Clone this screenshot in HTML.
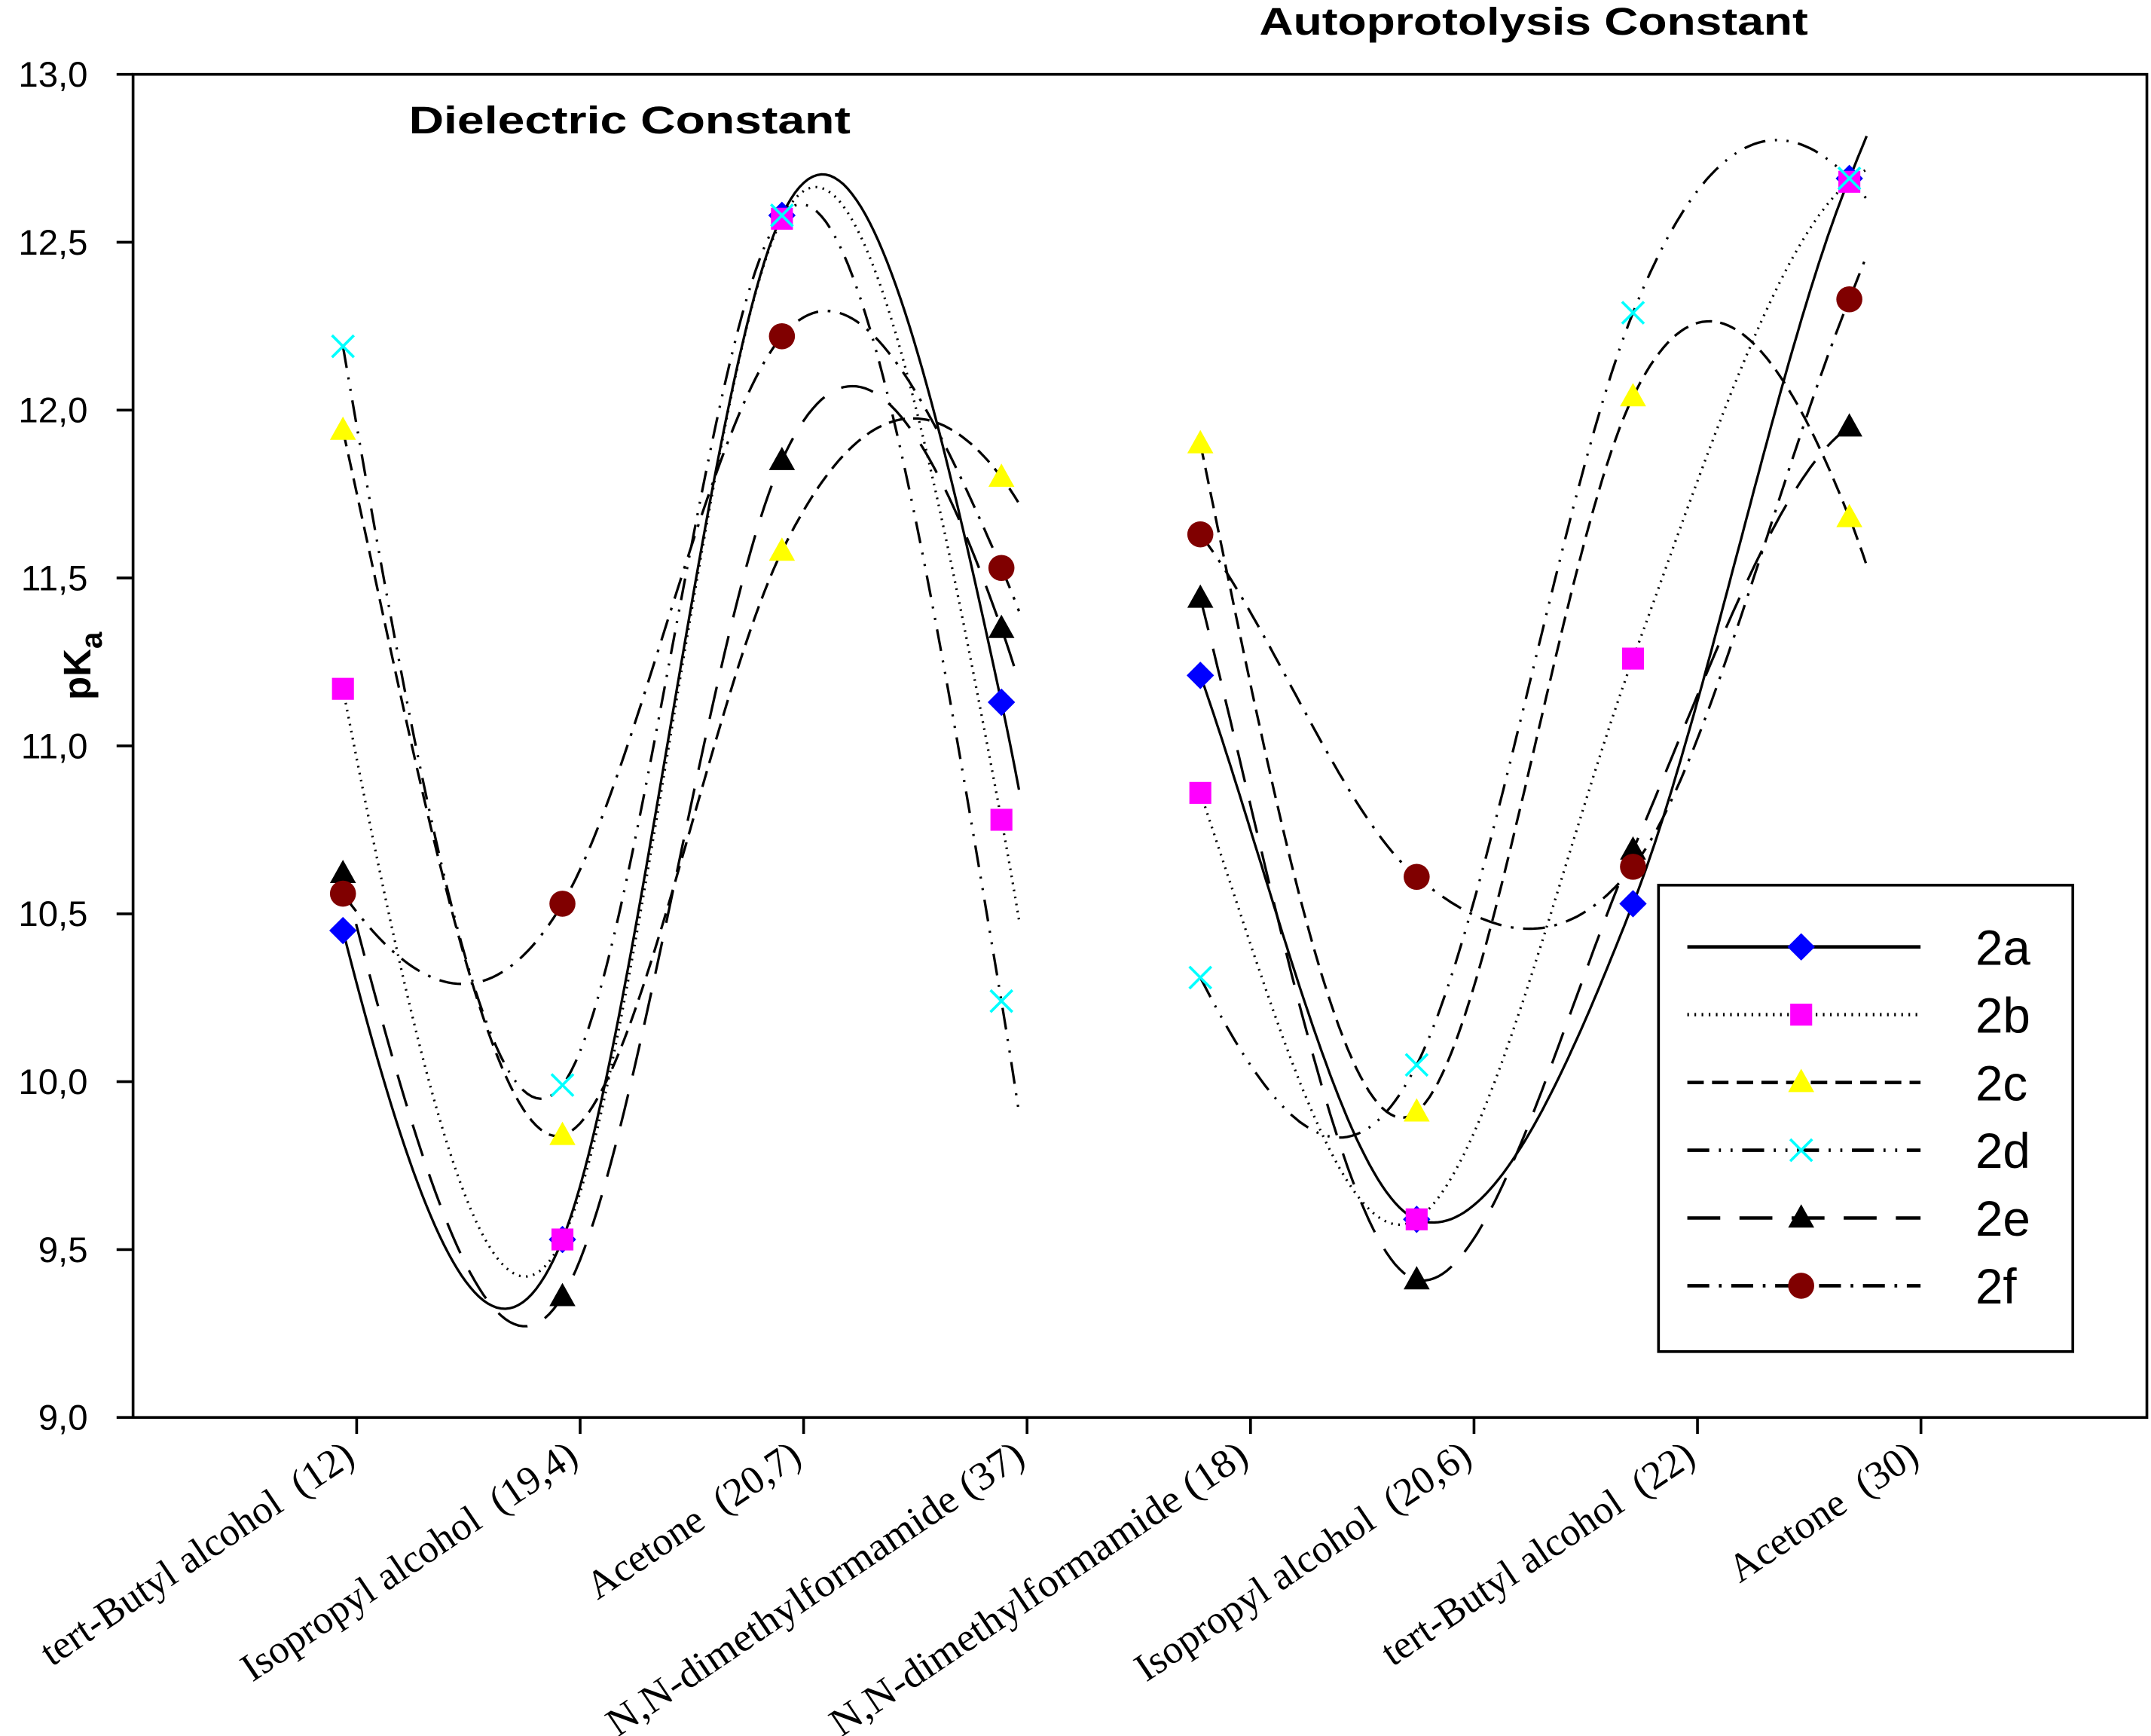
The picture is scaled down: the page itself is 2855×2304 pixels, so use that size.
<!DOCTYPE html>
<html><head><meta charset="utf-8"><style>html,body{margin:0;padding:0;background:#fff}svg{display:block}text{white-space:pre}</style></head>
<body>
<svg id="chart" xmlns="http://www.w3.org/2000/svg" width="2855" height="2304" viewBox="0 0 1568 1265" font-family="Liberation Sans, sans-serif">
<rect width="1568" height="1265" fill="#fff"/>
<g id="plot"></g>
</svg>
<script>
const categories = ["tert-Butyl alcohol  (12)","Isopropyl alcohol  (19,4)","Acetone  (20,7)","N,N-dimethylformamide (37)","N,N-dimethylformamide (18)","Isopropyl alcohol  (20,6)","tert-Butyl alcohol  (22)","Acetone  (30)"];
const yTicks = [9.0,9.5,10.0,10.5,11.0,11.5,12.0,12.5,13.0];
const seriesNames = ["2a","2b","2c","2d","2e","2f"];
const s2a = [10.45,9.53,12.58,11.13, 11.21,9.59,10.53,12.69];
const s2b = [11.17,9.53,12.57,10.78, 10.86,9.59,11.26,12.68];
const s2c = [11.94,9.84,11.58,11.80, 11.90,9.91,12.04,11.68];
const s2d = [12.19,9.99,12.58,10.24, 10.31,10.05,12.29,12.69];
const s2e = [10.62,9.36,11.85,11.35, 11.44,9.41,10.69,11.95];
const s2f = [10.56,10.53,12.22,11.53, 11.63,10.61,10.64,12.33];
const allSeries = [s2a,s2b,s2c,s2d,s2e,s2f];

const NS="http://www.w3.org/2000/svg";
const g=document.getElementById('plot');
const L=97,R=1565,T=54,B=1033,ymin=9,ymax=13;
function yS(v){return B-(v-ymin)/(ymax-ymin)*(B-T);}
function xTick(i){return 260+i*162.9;}
function xPt(i){return i<4 ? 250+160*i : 875+157.7*(i-4);}
function mk(tag,attrs,parent){const e=document.createElementNS(NS,tag);for(const k in attrs)e.setAttribute(k,attrs[k]);(parent||g).appendChild(e);return e;}
const styles=[
 {dash:"",color:"#0000ff",m:"diamond"},
 {dash:"1.2 4",color:"#ff00ff",m:"square"},
 {dash:"12 6",color:"#ffff00",m:"tri"},
 {dash:"16 7 1.5 7 1.5 7",color:"#00ffff",m:"x"},
 {dash:"24 14",color:"#000000",m:"tri"},
 {dash:"16 7 2 7",color:"#800000",m:"circle"}];

function marker(type,color,x,y,parent,name){
 let e;
 if(type==="diamond") e=mk('polygon',{points:`${x},${y-10} ${x+10},${y} ${x},${y+10} ${x-10},${y}`,fill:color},parent);
 else if(type==="square") e=mk('rect',{x:x-8,y:y-8,width:16,height:16,fill:color},parent);
 else if(type==="tri") e=mk('polygon',{points:`${x},${y-10} ${x+9.5},${y+7} ${x-9.5},${y+7}`,fill:color},parent);
 else if(type==="circle") e=mk('circle',{cx:x,cy:y,r:9.5,fill:color},parent);
 else { e=mk('path',{d:`M${x-8},${y-8}L${x+8},${y+8}M${x+8},${y-8}L${x-8},${y+8}`,stroke:color,'stroke-width':2,fill:'none'},parent);}
 
 
}

const frame=mk('rect',{x:L,y:T,width:R-L,height:B-T,fill:'none',stroke:'#000','stroke-width':2});


yTicks.forEach(v=>{
 const y=yS(v);
 const t=mk('line',{x1:85,x2:L,y1:y,y2:y,stroke:'#000','stroke-width':2});
 
 
 const tx=mk('text',{x:64,y:y+9,'text-anchor':'end','font-size':26});
 tx.textContent=v.toFixed(1).replace('.',',');
 
 
});
categories.forEach((c,i)=>{
 const x=xTick(i);
 const t=mk('line',{x1:x,x2:x,y1:B,y2:B+12,stroke:'#000','stroke-width':2});
 
 
 const attrs={x:0,y:0,'text-anchor':'end','font-size':29,'font-family':'Liberation Serif, serif',transform:`translate(${x},${B+32}) rotate(-34)`};
 if(c.startsWith('N,N')){attrs.textLength=360;attrs.lengthAdjust='spacingAndGlyphs';}
 const tx=mk('text',attrs);
 tx.textContent=c;
 
 
});
function lag(xs,ys,x){let s=0;for(let i=0;i<xs.length;i++){let p=ys[i];for(let j=0;j<xs.length;j++)if(j!==i)p*=(x-xs[j])/(xs[i]-xs[j]);s+=p;}return s;}
function catmull(ys,t){
 const n=ys.length;const i=Math.min(Math.floor(t),n-2);const u=t-i;
 const p0=ys[Math.max(i-1,0)],p1=ys[i],p2=ys[i+1],p3=ys[Math.min(i+2,n-1)];
 const m1=(p2-p0)/2,m2=(p3-p1)/2;
 const h00=2*u*u*u-3*u*u+1,h10=u*u*u-2*u*u+u,h01=-2*u*u*u+3*u*u,h11=u*u*u-u*u;
 if(t>n-1){const m=(p2-p1);return p2+m*(t-(n-1))*0.5;}
 return h00*p1+h10*m1+h01*p2+h11*m2;
}
allSeries.forEach((s,k)=>{
 const st=styles[k];
 [0,4].forEach(off=>{
  const xs=[0,1,2,3],ys=s.slice(off,off+4);
  let d='';
  for(let t=0;t<=3.1;t+=0.02){const v=0.4*lag(xs,ys,t)+0.6*catmull(ys,t);
   const xx=xPt(off)+t*(xPt(off+1)-xPt(off));
   d+=(d?'L':'M')+xx.toFixed(1)+','+yS(v).toFixed(1);}
  const p=mk('path',{d,fill:'none',stroke:'#000','stroke-width':1.8,'stroke-dasharray':st.dash});
  
  
 });
});
allSeries.forEach((s,k)=>{
 s.forEach((v,i)=>marker(styles[k].m,styles[k].color,xPt(i),yS(v),g,'point-'+seriesNames[k]));
});
let t1=mk('text',{x:298,y:97,'font-size':28,'font-weight':'bold',textLength:322,lengthAdjust:'spacingAndGlyphs'});t1.textContent='Dielectric Constant';


let t2=mk('text',{x:918,y:25,'font-size':28,'font-weight':'bold',textLength:400,lengthAdjust:'spacingAndGlyphs'});t2.textContent='Autoprotolysis Constant';


let yl=mk('text',{x:0,y:0,'font-size':28,'font-weight':'bold',transform:'translate(66,510) rotate(-90)'});
yl.innerHTML='pK<tspan dy="8" font-size="22">a</tspan>';


const lg=mk('g',{});


mk('rect',{x:1209,y:645,width:302,height:340,fill:'#fff',stroke:'#000','stroke-width':2},lg);
seriesNames.forEach((n,k)=>{
 const y=690+k*49.4;
 const li=mk('line',{x1:1230,x2:1400,y1:y,y2:y,stroke:'#000','stroke-width':2.5,'stroke-dasharray':styles[k].dash},lg);
 
 
 marker(styles[k].m,styles[k].color,1313,y,lg,'legend-marker-'+n);
 const tx=mk('text',{x:1440,y:y+13,'font-size':36},lg);
 tx.textContent=n;
 
 
});
</script>
</body></html>
